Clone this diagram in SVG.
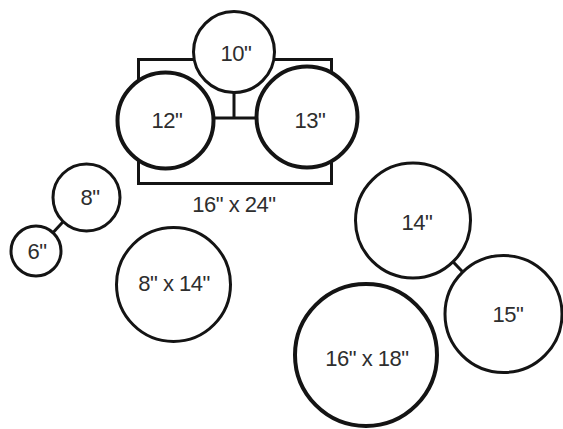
<svg xmlns="http://www.w3.org/2000/svg" width="563" height="429" viewBox="0 0 563 429">
<style>
.bg{fill:#fff}
.c{fill:#fff;stroke:#141414;stroke-width:3}
.ct{fill:#fff;stroke:#141414;stroke-width:4}
.ln{fill:none;stroke:#141414;stroke-width:3}
.t{font-family:"Liberation Sans",Arial,sans-serif;font-size:22px;fill:#2e2e2e;text-anchor:middle;letter-spacing:-0.5px}
</style>
<rect class="bg" x="0" y="0" width="563" height="429"/>
<g id="connectors">
<rect class="ln" x="138.5" y="59.5" width="193" height="124"/>
<line class="ln" x1="234" y1="92" x2="234" y2="118"/>
<line class="ln" x1="212" y1="118" x2="258" y2="118"/>
<line class="ln" x1="36" y1="251" x2="86" y2="197"/>
<line class="ln" x1="413" y1="220" x2="503" y2="314"/>
</g>
<g id="n10"><circle class="c" cx="234" cy="52" r="40.5"/><text class="t" x="236" y="61">10"</text></g>
<g id="n12"><circle class="ct" cx="165.5" cy="120.5" r="48"/><text class="t" x="167" y="128">12"</text></g>
<g id="n13"><circle class="ct" cx="307" cy="117" r="50.5"/><text class="t" x="310" y="128">13"</text></g>
<g id="n16x24"><text class="t" x="234" y="212">16" x 24"</text></g>
<g id="n8"><circle class="c" cx="86.5" cy="197.5" r="33.5"/><text class="t" x="90" y="205">8"</text></g>
<g id="n6"><circle class="c" cx="36" cy="251" r="25"/><text class="t" x="37" y="259">6"</text></g>
<g id="n8x14"><circle class="c" cx="173.5" cy="284.5" r="57"/><text class="t" x="174" y="291">8" x 14"</text></g>
<g id="n14"><circle class="c" cx="413" cy="220.5" r="57.5"/><text class="t" x="417" y="230">14"</text></g>
<g id="n15"><circle class="c" cx="503.5" cy="314" r="58.5"/><text class="t" x="508" y="322">15"</text></g>
<g id="n16x18"><circle class="ct" cx="366" cy="355" r="71"/><text class="t" x="367" y="366">16" x 18"</text></g>
</svg>
